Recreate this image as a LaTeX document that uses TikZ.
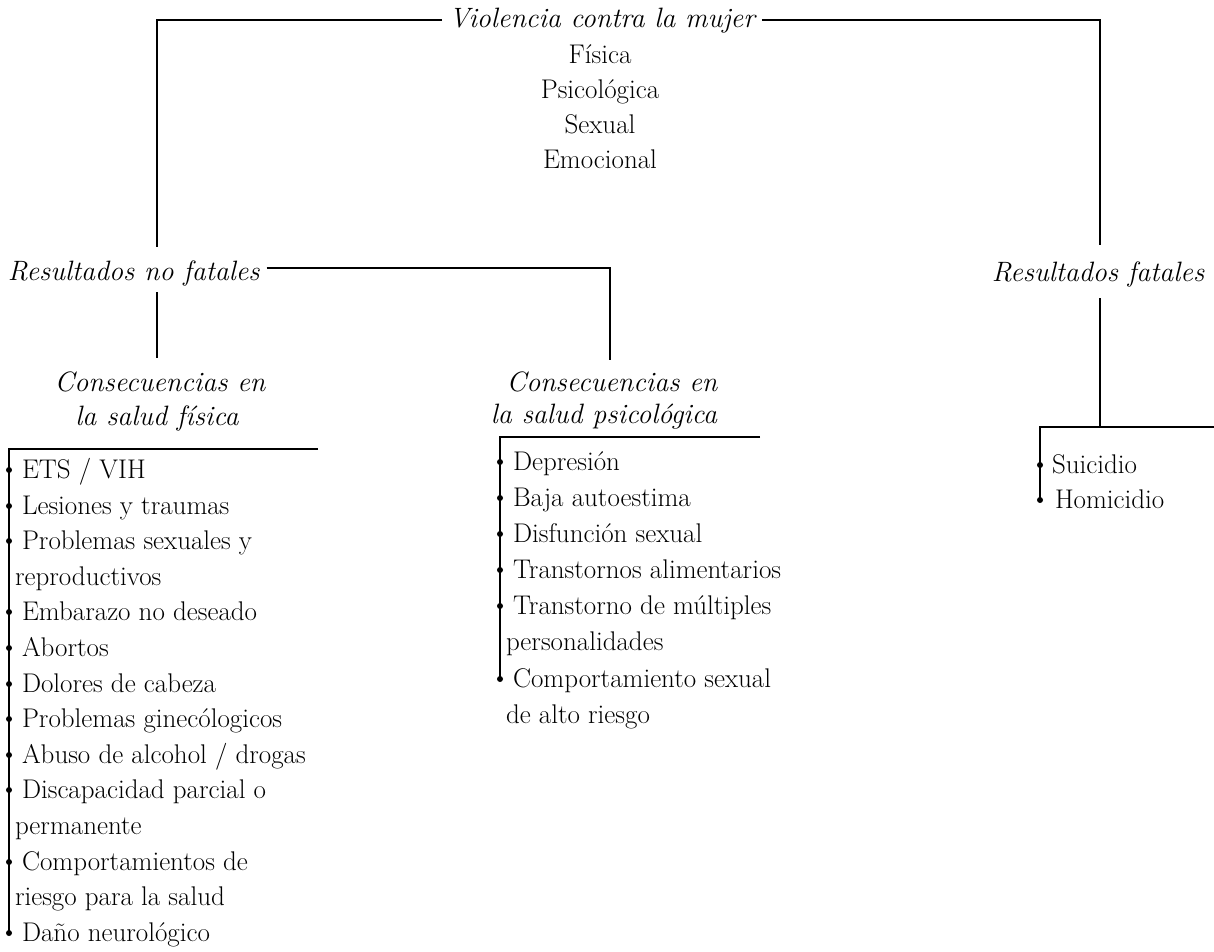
\documentclass[tikz,border=0pt]{standalone}
\usepackage{fontspec}
\usetikzlibrary{calc}
\begin{document}
\begin{tikzpicture}[x=1pt,y=-1pt,
  every node/.style={inner sep=0pt, outer sep=0pt},
  lnk/.style={line width=1.8pt},
  head/.style={font=\fontsize{28}{32}\selectfont\itshape, inner xsep=7pt},
  itm/.style={font=\fontsize{27}{30}\selectfont, anchor=base west},
  ctr/.style={font=\fontsize{27}{30}\selectfont, anchor=base},
  dot/.style={circle, fill=black, minimum size=6pt, inner sep=0pt}]
\useasboundingbox (0,0) rectangle (1214,951);

% ---- top
\node[head, anchor=base] (vcm) at (602,27) {Violencia contra la mujer};
\node[ctr] (fis) at (600,63) {Física};
\node[ctr] (psi) at (600,98) {Psicológica};
\node[ctr] (sex) at (600,133) {Sexual};
\node[ctr] (emo) at (600,168) {Emocional};

\coordinate (tl) at (157,20);
\coordinate (tr) at (1100,20);
\coordinate (nfa) at (157,247);
\coordinate (fa) at (1100,245);
\draw[lnk] (vcm.west |- tl) -- (tl) -- (nfa);
\draw[lnk] (vcm.east |- tr) -- (tr) -- (fa);

% ---- level 2
\node[head, anchor=base west] (rnf) at (1,280) {Resultados no fatales};
\node[head, anchor=base] (rf) at (1098,281) {Resultados fatales};

\coordinate (nfb) at (157,292);
\coordinate (nfc) at (157,358);
\coordinate (nfr) at (610,268);
\coordinate (nfd) at (610,360);
\draw[lnk] (nfb) -- (nfc);
\draw[lnk] (rnf.east |- nfr) -- (nfr) -- (nfd);

% ---- level 3 headings
\node[head, anchor=base] (cf1) at (160,391) {Consecuencias en};
\node[head, anchor=base] (cf2) at (157,425) {la salud física};
\node[head, anchor=base] (cp1) at (612,391) {Consecuencias en};
\node[head, anchor=base] (cp2) at (604,423) {la salud psicológica};

% ---- left list
\coordinate (lt) at (9,449);
\coordinate (ltr) at (318,449);
\node[itm] (l1) at (22,478) {ETS / VIH};
\node[itm] (l2) at (22,514) {Lesiones y traumas};
\node[itm] (l3) at (22,549) {Problemas sexuales y};
\node[itm] (l4) at (15,585) {reproductivos};
\node[itm] (l5) at (22,620) {Embarazo no deseado};
\node[itm] (l6) at (22,656) {Abortos};
\node[itm] (l7) at (22,692) {Dolores de cabeza};
\node[itm] (l8) at (22,727) {Problemas ginecólogicos};
\node[itm] (l9) at (22,763) {Abuso de alcohol / drogas};
\node[itm] (l10) at (22,798) {Discapacidad parcial o};
\node[itm] (l11) at (15,834) {permanente};
\node[itm] (l12) at (22,870) {Comportamientos de};
\node[itm] (l13) at (15,905) {riesgo para la salud};
\node[itm] (l14) at (22,941) {Daño neurológico};
\foreach \n in {l1,l2,l3,l5,l6,l7,l8,l9,l10,l12,l14}
  \node[dot] (d\n) at ($(lt |- \n.base)+(0,-8)$) {};
\draw[lnk] (ltr) -- (lt) -- (lt |- dl14);

% ---- middle list
\coordinate (mt) at (500,437);
\coordinate (mtr) at (760,437);
\node[itm] (m1) at (513,470) {Depresión};
\node[itm] (m2) at (513,506) {Baja autoestima};
\node[itm] (m3) at (513,542) {Disfunción sexual};
\node[itm] (m4) at (513,578) {Transtornos alimentarios};
\node[itm] (m5) at (513,614) {Transtorno de múltiples};
\node[itm] (m6) at (506,650) {personalidades};
\node[itm] (m7) at (513,687) {Comportamiento sexual};
\node[itm] (m8) at (506,723) {de alto riesgo};
\foreach \n in {m1,m2,m3,m4,m5,m7}
  \node[dot] (d\n) at ($(mt |- \n.base)+(0,-8)$) {};
\draw[lnk] (mtr) -- (mt) -- (mt |- dm7);

% ---- right list
\coordinate (fb) at (1100,298);
\coordinate (fc) at (1100,427);
\coordinate (fl) at (1040,427);
\coordinate (fr) at (1214,427);
\draw[lnk] (fb) -- (fc);
\node[itm] (s1) at (1052,473) {Suicidio};
\node[itm] (s2) at (1055,508) {Homicidio};
\foreach \n in {s1,s2}
  \node[dot] (d\n) at ($(fl |- \n.base)+(0,-8)$) {};
\draw[lnk] (fr) -- (fl) -- (fl |- ds2);
\end{tikzpicture}
\end{document}
